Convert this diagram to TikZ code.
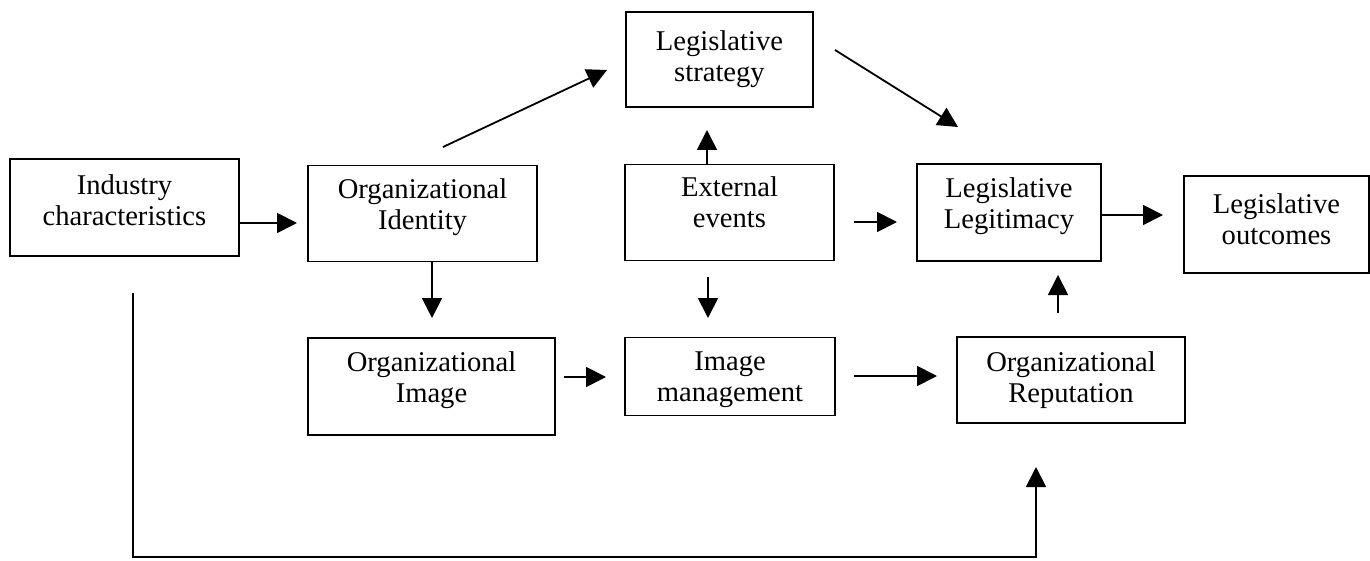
\documentclass[tikz,border=0pt]{standalone}
\usepackage{fontspec}
\setmainfont{Liberation Serif}
\usetikzlibrary{arrows.meta}
\begin{document}
\begin{tikzpicture}[x=0.5pt,y=-0.5pt,
  box/.style={draw,line width=0.9pt,inner sep=0pt},
  txt/.style={align=center,inner sep=0pt,font=\fontsize{14.3}{15.5}\selectfont},
  conn/.style={line width=0.9pt,-{Triangle[length=10pt,width=10pt]}}]
\useasboundingbox (0,0) rectangle (1370,561);
% boxes
\node[box,minimum width=229*0.5pt,minimum height=97*0.5pt] (ind) at (124.5,207.5) {};
\node[box,minimum width=229*0.5pt,minimum height=96*0.5pt] (oid) at (422.5,213.5) {};
\node[box,minimum width=247*0.5pt,minimum height=97*0.5pt] (oim) at (431.5,386.5) {};
\node[box,minimum width=187*0.5pt,minimum height=95*0.5pt] (ls) at (719.5,59.5) {};
\node[box,minimum width=209*0.5pt,minimum height=96*0.5pt] (ee) at (729.5,212.5) {};
\node[box,minimum width=210*0.5pt,minimum height=78*0.5pt] (im) at (730,376.5) {};
\node[box,minimum width=184*0.5pt,minimum height=97*0.5pt] (ll) at (1009,212.5) {};
\node[box,minimum width=185*0.5pt,minimum height=97*0.5pt] (lo) at (1276.5,224.5) {};
\node[box,minimum width=228*0.5pt,minimum height=86*0.5pt] (rep) at (1071,380) {};
% texts
\node[txt] (indt) at ([yshift=3.5pt]ind.center) {Industry\\characteristics};
\node[txt] (oidt) at ([yshift=3pt]oid.center) {Organizational\\Identity};
\node[txt] (oimt) at ([yshift=3pt]oim.center) {Organizational\\Image};
\node[txt] (lst) at (ls.center) {Legislative\\strategy};
\node[txt] (eet) at ([yshift=5pt]ee.center) {External\\events};
\node[txt] (imt) at ([yshift=-1.5pt]im.center) {Image\\management};
\node[txt] (llt) at ([yshift=3pt]ll.center) {Legislative\\Legitimacy};
\node[txt] (lot) at ([yshift=2.5pt]lo.center) {Legislative\\outcomes};
\node[txt] (rept) at (rep.center) {Organizational\\Reputation};
% connector endpoints
\coordinate (a1s) at (239,223);  \coordinate (a1e) at (297,223);
\coordinate (a2s) at (443,147);  \coordinate (a2e) at (607,70);
\coordinate (a3s) at (835,50);   \coordinate (a3e) at (958,127);
\coordinate (a4s) at (707,164);  \coordinate (a4e) at (707,130);
\coordinate (a5s) at (854,222);  \coordinate (a5e) at (897,222);
\coordinate (a6s) at (708,277);  \coordinate (a6e) at (708,318);
\coordinate (a7s) at (432,261);  \coordinate (a7e) at (432,318);
\coordinate (a8s) at (564,377);  \coordinate (a8e) at (606,377);
\coordinate (a9s) at (854,376);  \coordinate (a9e) at (937,376);
\coordinate (a10s) at (1058,313); \coordinate (a10e) at (1058,275);
\coordinate (a11s) at (1101,215); \coordinate (a11e) at (1163,215);
\coordinate (a12s) at (133,293); \coordinate (a12b) at (133,557);
\coordinate (a12c) at (1036,557); \coordinate (a12e) at (1036,467);
% connectors
\draw[conn] (a1s) -- (a1e);
\draw[conn] (a2s) -- (a2e);
\draw[conn] (a3s) -- (a3e);
\draw[conn] (a4s) -- (a4e);
\draw[conn] (a5s) -- (a5e);
\draw[conn] (a6s) -- (a6e);
\draw[conn] (a7s) -- (a7e);
\draw[conn] (a8s) -- (a8e);
\draw[conn] (a9s) -- (a9e);
\draw[conn] (a10s) -- (a10e);
\draw[conn] (a11s) -- (a11e);
\draw[conn] (a12s) -- (a12b) -- (a12c) -- (a12e);
\end{tikzpicture}
\end{document}
